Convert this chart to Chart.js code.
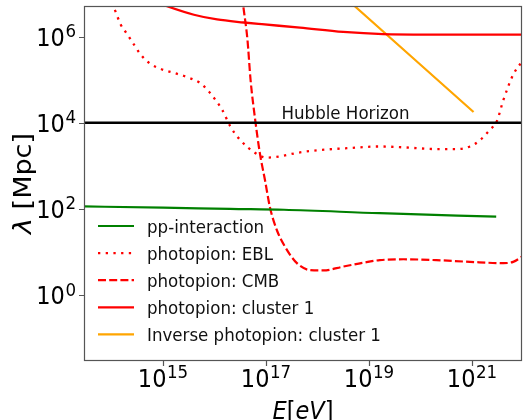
<!DOCTYPE html>
<html>
<head>
<meta charset="utf-8">
<script src="https://cdn.jsdelivr.net/npm/chart.js@4/dist/chart.umd.min.js"></script>
<style>
  html, body { margin: 0; padding: 0; background: #fff; overflow: hidden; }
  canvas { display: block; }
</style>
</head>
<body>
<canvas id="c" width="523" height="420"></canvas>
<script>
// ---------------- data ----------------
const xRange = [2.924e13, 9.354e21];   // E [eV] axis limits
const yRange = [0.02931, 5.164e6];     // lambda [Mpc] axis limits

const xTicks = [1e15, 1e17, 1e19, 1e21];
const xTickExp = ['15', '17', '19', '21'];
const yTicks = [1, 1e2, 1e4, 1e6];
const yTickExp = ['0', '2', '4', '6'];

const labels = ['pp-interaction', 'photopion: EBL', 'photopion: CMB', 'photopion: cluster 1', 'Inverse photopion: cluster 1'];

const ppE   = [1.995e13, 1.0e15, 2.0e16, 2.239e17, 1.622e19, 2.951e21];
const ppL   = [114.8, 107.2, 100.0, 95.5, 79.4, 66.1];

const eblE  = [8.913e13, 1.122e14, 1.514e14, 2.042e14, 2.754e14, 3.715e14, 5.370e14, 9.120e14, 1.622e15, 2.951e15,
               5.012e15, 7.244e15, 1.047e16, 1.413e16, 2.042e16, 3.162e16, 6.166e16, 1.023e17, 1.862e17, 3.981e17,
               9.550e17, 3.715e18, 1.622e19, 4.677e19, 2.042e20, 5.370e20, 9.120e20, 1.445e21, 2.239e21, 3.020e21,
               4.074e21, 6.310e21, 9.333e21, 1.259e22];
const eblL  = [8.913e6, 4.677e6, 1.905e6, 1.122e6, 6.457e5, 3.802e5, 2.455e5, 1.778e5, 1.445e5, 1.148e5,
               8.710e4, 5.888e4, 3.388e4, 1.995e4, 8.128e3, 3.981e3, 1.995e3, 1.549e3, 1.660e3, 1.995e3,
               2.291e3, 2.570e3, 2.818e3, 2.692e3, 2.455e3, 2.455e3, 2.818e3, 3.981e3, 6.918e3, 1.072e4,
               3.388e4, 1.318e5, 2.692e5, 5.623e5];

const cmbE  = [3.236e16, 3.631e16, 4.365e16, 5.012e16, 6.166e16, 7.586e16, 9.550e16, 1.202e17, 1.622e17, 2.344e17,
               3.981e17, 7.079e17, 1.288e18, 3.162e18, 7.762e18, 1.622e19, 4.677e19, 2.042e20, 9.120e20, 4.074e21,
               6.310e21, 9.333e21, 1.259e22];
const cmbL  = [1.585e7, 5.012e6, 8.511e5, 1.0e5, 1.175e4, 1.995e3, 4.677e2, 1.047e2, 32.36, 13.18,
               5.495, 3.802, 3.715, 4.571, 5.623, 6.457, 6.761, 6.457, 5.888, 5.495,
               5.888, 7.762, 10.0];

const clE   = [3.548e14, 1.122e15, 3.981e15, 1.122e16, 3.715e16, 8.318e16, 4.571e17, 3.162e18, 1.862e19, 1.349e20, 9.772e21, 1.259e22];
const clL   = [8.913e6, 5.248e6, 3.236e6, 2.512e6, 2.138e6, 1.950e6, 1.622e6, 1.288e6, 1.148e6, 1.122e6, 1.122e6, 1.122e6];

const invE  = [1.995e18, 1.072e21];
const invL  = [1.445e7, 1.778e4];

const hubbleE = [1e13, 1e23];
const hubbleL = [1e4, 1e4];
const hubbleText = 'Hubble Horizon';
const hubbleTextE = 2.0e17;

// ---------------- helpers ----------------
const pts = (xs, ys) => xs.map((x, i) => ({ x: x, y: ys[i] }));
const FAM = "'DejaVu Sans Condensed', 'DejaVu Sans', sans-serif";
const FAM_N = "'DejaVu Sans', sans-serif";

function setFont(ctx, f, condensed) {
  ctx.font = f;
  try { ctx.fontStretch = condensed ? 'condensed' : 'normal'; } catch (e) {}
}

function drawPow(ctx, exp, x, base, align) {
  setFont(ctx, '25px ' + FAM, true);
  const w1 = ctx.measureText('10').width;
  setFont(ctx, '18.5px ' + FAM, true);
  const w2 = ctx.measureText(exp).width;
  const gap = 0.5;
  const total = w1 + gap + w2;
  const start = align === 'right' ? x - total : x - total / 2;
  ctx.textAlign = 'left';
  ctx.textBaseline = 'alphabetic';
  setFont(ctx, '25px ' + FAM, true);
  ctx.fillText('10', start, base);
  setFont(ctx, '18.5px ' + FAM, true);
  ctx.fillText(exp, start + w1 + gap, base - 8.7);
}

const decor = {
  id: 'decor',
  afterDraw(chart) {
    const ctx = chart.ctx;
    const a = chart.chartArea;
    const xs = chart.scales.x, ys = chart.scales.y;
    ctx.save();
    // frame
    ctx.strokeStyle = '#555';
    ctx.lineWidth = 1.2;
    ctx.strokeRect(Math.round(a.left) + 0.5, Math.round(a.top) + 0.5,
                   Math.round(a.right - a.left) - 1, Math.round(a.bottom - a.top) - 1);
    // ticks
    ctx.beginPath();
    xTicks.forEach(v => { const px = Math.round(xs.getPixelForValue(v)) + 0.5; ctx.moveTo(px, a.bottom); ctx.lineTo(px, a.bottom + 5); });
    yTicks.forEach(v => { const py = Math.round(ys.getPixelForValue(v)) + 0.5; ctx.moveTo(a.left, py); ctx.lineTo(a.left - 5, py); });
    ctx.stroke();
    // tick labels
    ctx.fillStyle = '#000';
    xTicks.forEach((v, i) => drawPow(ctx, xTickExp[i], xs.getPixelForValue(v), a.bottom + 25.7, 'center'));
    yTicks.forEach((v, i) => drawPow(ctx, yTickExp[i], a.left - 8, ys.getPixelForValue(v) + 9.2, 'right'));
    // x title  E[eV]
    const parts = [['E', 'italic'], ['[', 'normal'], ['eV', 'italic'], [']', 'normal']];
    let tw = 0;
    parts.forEach(p => { setFont(ctx, p[1] + ' 25px ' + FAM, true); p.push(ctx.measureText(p[0]).width); tw += p[2]; });
    let cx = (a.left + a.right) / 2 - tw / 2;
    ctx.textAlign = 'left'; ctx.textBaseline = 'alphabetic';
    parts.forEach(p => { setFont(ctx, p[1] + ' 25px ' + FAM, true); ctx.fillText(p[0], cx, 418.5); cx += p[2]; });
    // y title  λ [Mpc]
    ctx.save();
    ctx.translate(31, (a.top + a.bottom) / 2);
    ctx.rotate(-Math.PI / 2);
    ctx.scale(1, 0.9);
    const yparts = [['λ', 'italic'], [' [Mpc]', 'normal']];
    let yw = 0;
    yparts.forEach(p => { setFont(ctx, p[1] + ' 27px ' + FAM_N, false); p.push(ctx.measureText(p[0]).width); yw += p[2]; });
    let yx = -yw / 2;
    yparts.forEach(p => { setFont(ctx, p[1] + ' 27px ' + FAM_N, false); ctx.fillText(p[0], yx, 0); yx += p[2]; });
    ctx.restore();
    // Hubble label
    setFont(ctx, '18.5px ' + FAM, true);
    ctx.fillStyle = '#111';
    ctx.fillText(hubbleText, xs.getPixelForValue(hubbleTextE), ys.getPixelForValue(hubbleL[0]) - 4);
    // legend
    const ds = chart.data.datasets.filter(d => d.inLegend);
    ds.forEach((d, i) => {
      const ry = 226 + i * 27.1;
      ctx.save();
      ctx.strokeStyle = d.borderColor;
      ctx.lineWidth = d.borderWidth;
      ctx.setLineDash(d.borderDash || []);
      ctx.beginPath();
      ctx.moveTo(98, ry); ctx.lineTo(134, ry);
      ctx.stroke();
      ctx.restore();
      setFont(ctx, '18.5px ' + FAM, true);
      ctx.fillStyle = '#111';
      ctx.textAlign = 'left';
      ctx.fillText(d.label, 147, ry + 6.5);
    });
    ctx.restore();
  }
};

const common = { pointRadius: 0, fill: false, cubicInterpolationMode: 'monotone', clip: 0, borderCapStyle: 'butt' };

new Chart(document.getElementById('c'), {
  type: 'line',
  data: {
    datasets: [
      Object.assign({}, common, { label: 'Hubble Horizon', data: pts(hubbleE, hubbleL), borderColor: '#000', borderWidth: 2.6, inLegend: false }),
      Object.assign({}, common, { label: labels[0], data: pts(ppE, ppL), borderColor: '#008000', borderWidth: 2.2, inLegend: true }),
      Object.assign({}, common, { label: labels[1], data: pts(eblE, eblL), borderColor: '#ff0000', borderWidth: 2.3, borderDash: [2.3, 5.4], inLegend: true }),
      Object.assign({}, common, { label: labels[2], data: pts(cmbE, cmbL), borderColor: '#ff0000', borderWidth: 2.2, borderDash: [8, 3.2], inLegend: true }),
      Object.assign({}, common, { label: labels[3], data: pts(clE, clL), borderColor: '#ff0000', borderWidth: 2.3, inLegend: true }),
      Object.assign({}, common, { label: labels[4], data: pts(invE, invL), borderColor: '#ffa500', borderWidth: 2.2, inLegend: true })
    ]
  },
  options: {
    responsive: false,
    animation: false,
    devicePixelRatio: 1,
    layout: { padding: { top: 6, right: 1, left: 0, bottom: 0 } },
    plugins: { legend: { display: false }, tooltip: { enabled: false } },
    scales: {
      x: {
        type: 'logarithmic', min: xRange[0], max: xRange[1],
        grid: { display: false }, border: { display: false }, ticks: { display: false },
        afterBuildTicks: s => { s.ticks = xTicks.map(v => ({ value: v })); },
        afterFit: s => { s.height = 59; }
      },
      y: {
        type: 'logarithmic', min: yRange[0], max: yRange[1],
        grid: { display: false }, border: { display: false }, ticks: { display: false },
        afterBuildTicks: s => { s.ticks = yTicks.map(v => ({ value: v })); },
        afterFit: s => { s.width = 84; }
      }
    }
  },
  plugins: [decor]
});
</script>
</body>
</html>
